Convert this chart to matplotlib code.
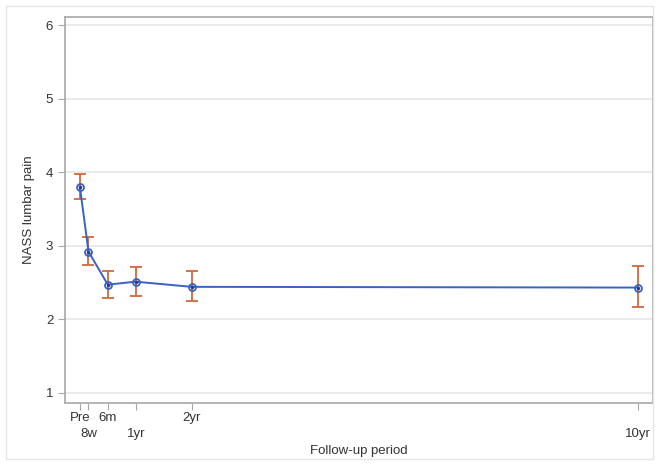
import matplotlib
matplotlib.use("Agg")
import matplotlib.pyplot as plt
from matplotlib.patches import Rectangle

plt.rcParams['font.family'] = ['Liberation Sans', 'DejaVu Sans']

# follow-up time in months
months = [0, 1.85, 6, 12, 24, 120]
labels = ["Pre", "8w", "6m", "1yr", "2yr", "10yr"]
label_row = [0, 1, 0, 1, 0, 1]
means = [3.80, 2.92, 2.47, 2.51, 2.44, 2.43]
lower = [3.63, 2.74, 2.29, 2.32, 2.25, 2.16]
upper = [3.98, 3.12, 2.65, 2.71, 2.65, 2.73]

fig = plt.figure(figsize=(6.59, 4.65), dpi=100)
ax = fig.add_axes([65/659, 1 - 403/465, (653-65)/659, (403-17)/465])

# faint outer frame
fig.patches.append(Rectangle((6/659, 6/465), 1 - 12/659, 1 - 12/465, transform=fig.transFigure,
                             fill=False, edgecolor="#e6e6e6", lw=1))

err_lo = [m - l for m, l in zip(means, lower)]
err_hi = [u - m for m, u in zip(means, upper)]
ax.errorbar(months, means, yerr=[err_lo, err_hi], fmt="none", ecolor="#d2683e",
            elinewidth=1.3, capsize=4.5, capthick=1.3, zorder=2)
ax.plot(months, means, color="#3a62c4", lw=1.4, zorder=3)
ax.plot(months, means, "o", ms=5, mfc="none", mec="#3a62c4", mew=1.3, zorder=4)
ax.plot(months, means, ".", ms=3, color="#2b3f7a", zorder=5)

ax.set_xlim(-3.2, 123.2)
ax.set_ylim(0.86, 6.11)
ax.set_yticks([1, 2, 3, 4, 5, 6])
ax.yaxis.grid(True, color="#e6e6e6", lw=1.2)
ax.set_axisbelow(True)

ax.set_xticks(months)
ax.set_xticklabels([])
for m, lab, row in zip(months, labels, label_row):
    ax.annotate(lab, xy=(m, 0), xycoords=("data", "axes fraction"),
                xytext=(0, -15 - 16 * row), textcoords="offset pixels",
                ha="center", va="center", fontsize=9.5, color="#333333")

for s in ax.spines.values():
    s.set_color("#a8a8a8")
    s.set_linewidth(1.2)
ax.tick_params(colors="#a8a8a8", labelcolor="#333333", labelsize=9.5, length=5)

ax.set_ylabel("NASS lumbar pain", fontsize=9.5, color="#333333", labelpad=8)
fig.text((65 + 653) / 2 / 659, 1 - 451/465, "Follow-up period", ha="center", va="center",
         fontsize=9.5, color="#333333")

fig.savefig("out.png", dpi=100)
